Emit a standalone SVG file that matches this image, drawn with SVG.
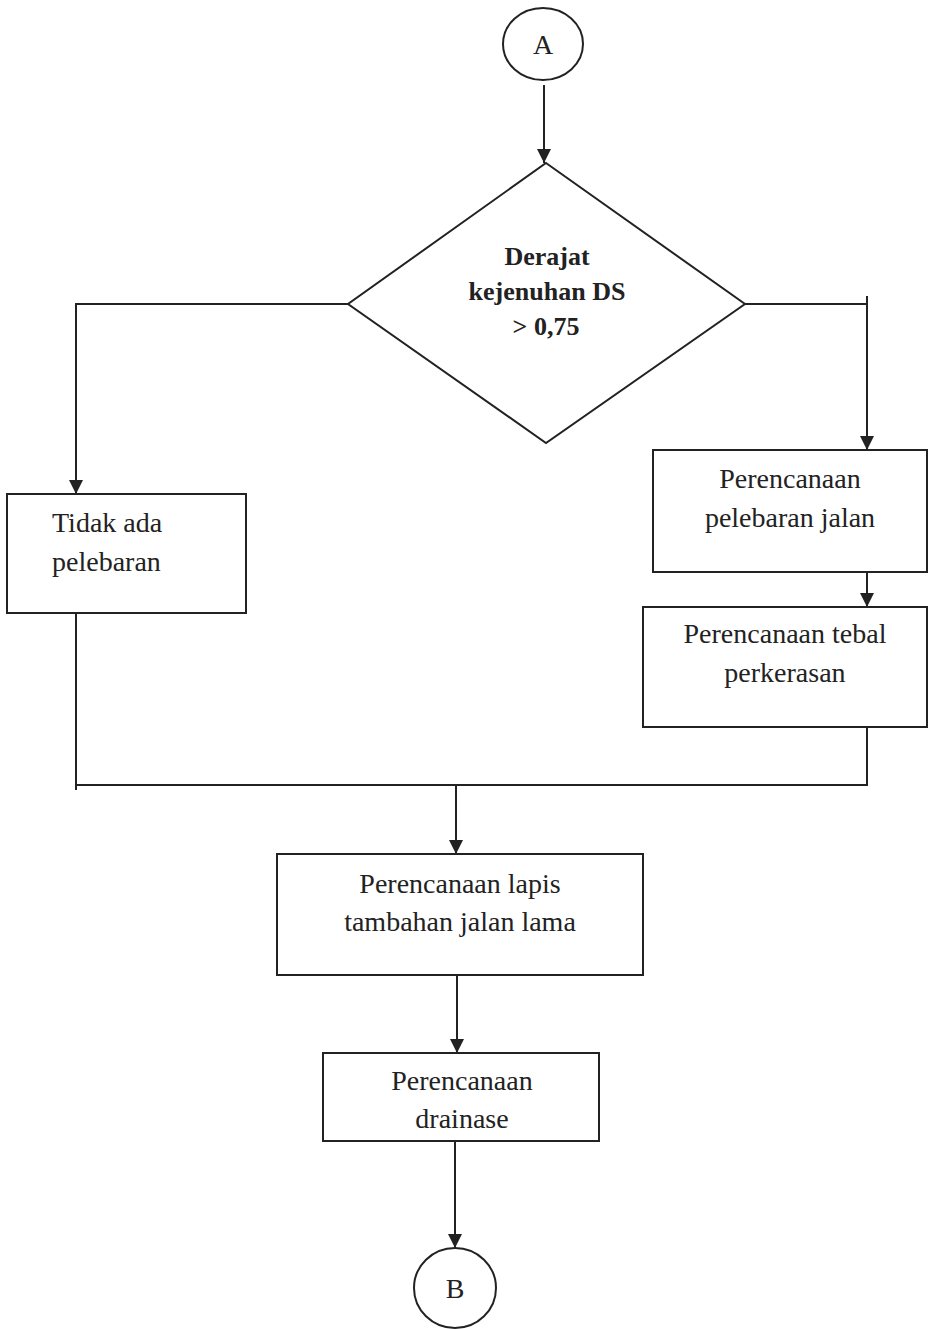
<svg xmlns="http://www.w3.org/2000/svg" width="930" height="1329" viewBox="0 0 930 1329">
<style>
.shape{fill:#fff;stroke:#222;stroke-width:2}
.line{fill:none;stroke:#222;stroke-width:2}
.t{font-family:"Liberation Serif","Times New Roman",serif;font-size:28px;fill:#222}
.b{font-family:"Liberation Serif","Times New Roman",serif;font-size:26px;font-weight:bold;fill:#222}
</style>
<defs>
<marker id="arr" viewBox="0 0 10 10" refX="10" refY="5" markerWidth="14" markerHeight="14" markerUnits="userSpaceOnUse" orient="auto">
<path d="M0,0 L10,5 L0,10 z" fill="#222"/>
</marker>
</defs>
<rect width="930" height="1329" fill="#fff"/>
<g id="connectors">
<path class="line" d="M544,85 V163" marker-end="url(#arr)"/>
<path class="line" d="M348,304 H76 V494" marker-end="url(#arr)"/>
<path class="line" d="M745,304 H867"/>
<path class="line" d="M867,296 V450" marker-end="url(#arr)"/>
<path class="line" d="M867,572 V607" marker-end="url(#arr)"/>
<path class="line" d="M76,613 V790"/>
<path class="line" d="M867,727 V785 H76"/>
<path class="line" d="M456,785 V854" marker-end="url(#arr)"/>
<path class="line" d="M457,975 V1053" marker-end="url(#arr)"/>
<path class="line" d="M455,1141 V1248" marker-end="url(#arr)"/>
</g>
<g id="nodeA">
<ellipse class="shape" cx="543" cy="44" rx="40" ry="36"/>
<text class="t" x="543" y="54" text-anchor="middle">A</text>
</g>
<g id="decision">
<polygon class="shape" points="546,163 745,304 546,443 348,304"/>
<text class="b" x="547" y="265" text-anchor="middle">Derajat</text>
<text class="b" x="547" y="300" text-anchor="middle">kejenuhan DS</text>
<text class="b" x="546" y="335" text-anchor="middle">&gt; 0,75</text>
</g>
<g id="tidakAda">
<rect class="shape" x="7" y="494" width="239" height="119"/>
<text class="t" x="52" y="532">Tidak ada</text>
<text class="t" x="52" y="571">pelebaran</text>
</g>
<g id="pelebaranJalan">
<rect class="shape" x="653" y="450" width="274" height="122"/>
<text class="t" x="790" y="488" text-anchor="middle">Perencanaan</text>
<text class="t" x="790" y="527" text-anchor="middle">pelebaran jalan</text>
</g>
<g id="tebalPerkerasan">
<rect class="shape" x="643" y="607" width="284" height="120"/>
<text class="t" x="785" y="643" text-anchor="middle">Perencanaan tebal</text>
<text class="t" x="785" y="682" text-anchor="middle">perkerasan</text>
</g>
<g id="lapisTambahan">
<rect class="shape" x="277" y="854" width="366" height="121"/>
<text class="t" x="460" y="893" text-anchor="middle">Perencanaan lapis</text>
<text class="t" x="460" y="931" text-anchor="middle">tambahan jalan lama</text>
</g>
<g id="drainase">
<rect class="shape" x="323" y="1053" width="276" height="88"/>
<text class="t" x="462" y="1090" text-anchor="middle">Perencanaan</text>
<text class="t" x="462" y="1128" text-anchor="middle">drainase</text>
</g>
<g id="nodeB">
<ellipse class="shape" cx="455" cy="1288" rx="41" ry="40"/>
<text class="t" x="455" y="1298" text-anchor="middle">B</text>
</g>
</svg>
